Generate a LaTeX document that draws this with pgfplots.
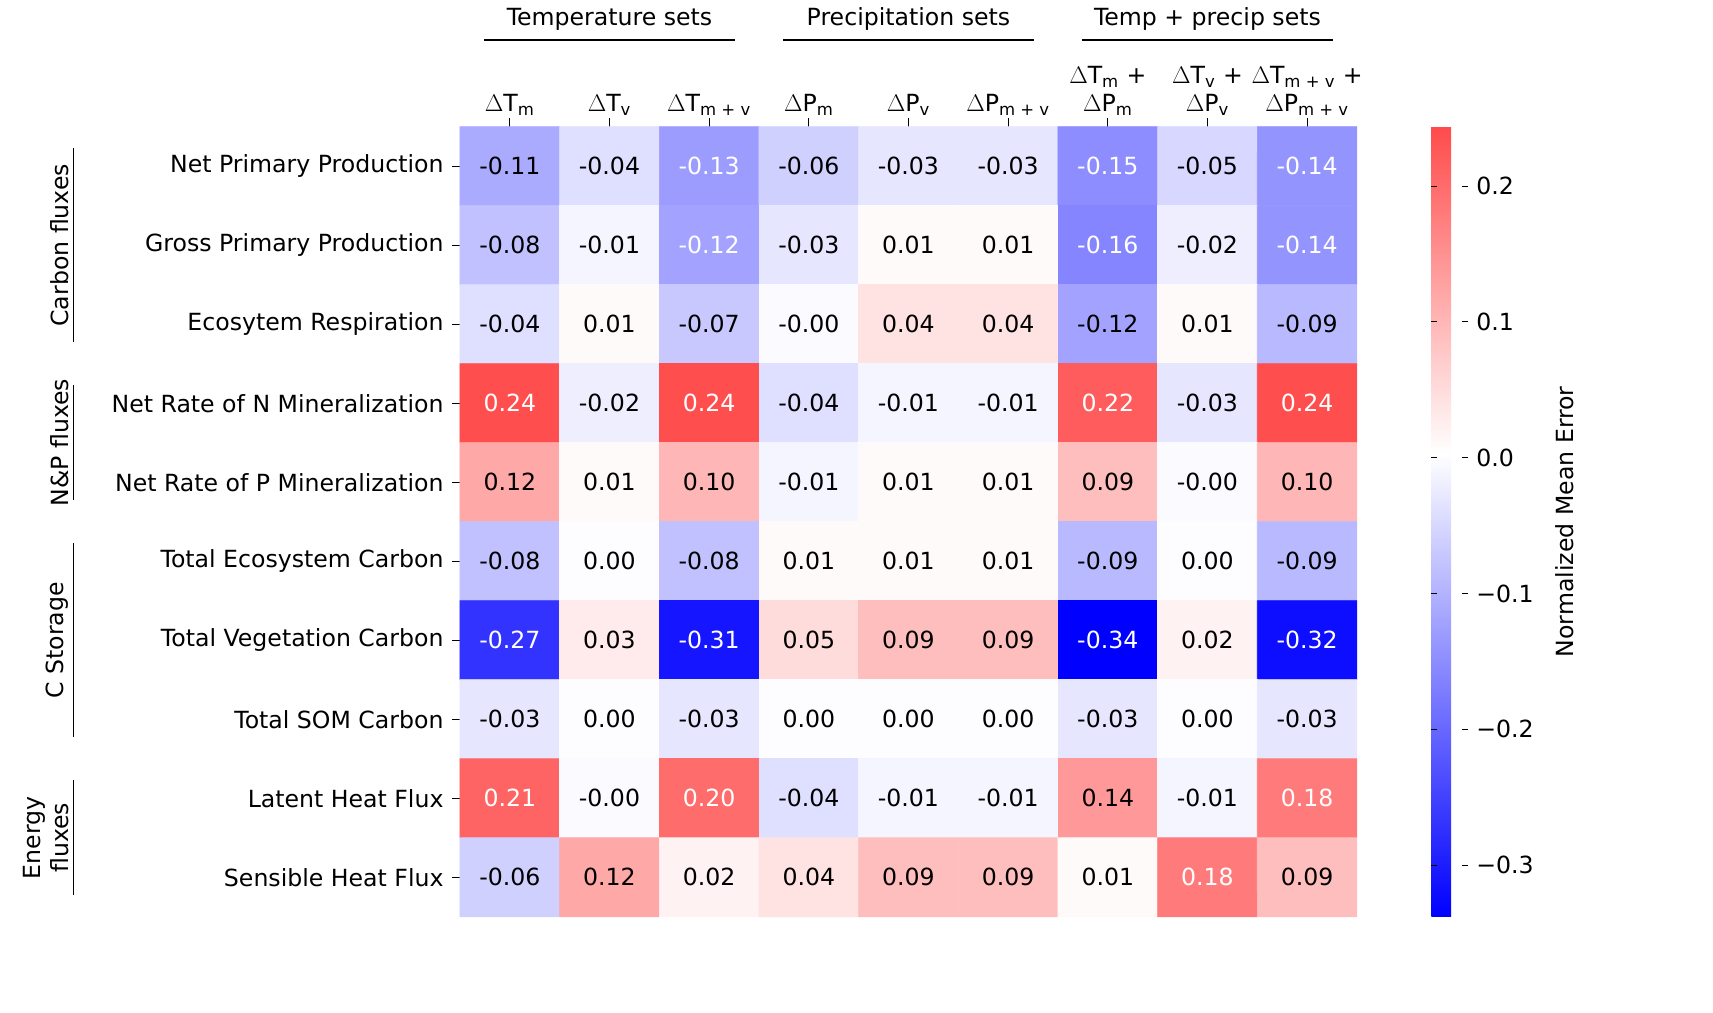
\documentclass[border=0pt]{standalone}
\usepackage{pgfplots}
\pgfplotsset{compat=1.18}
\usepackage{pgfplotstable}
\usepackage{fontspec}
\setmainfont{DejaVu Sans}
\newcommand\W[1]{\textcolor{white}{#1}}
\pgfplotstableread{
x y v l
0 0 -0.11 -0.11
1 0 -0.04 -0.04
2 0 -0.13 \W{-0.13}
3 0 -0.06 -0.06
4 0 -0.03 -0.03
5 0 -0.03 -0.03
6 0 -0.15 \W{-0.15}
7 0 -0.05 -0.05
8 0 -0.14 \W{-0.14}
0 1 -0.08 -0.08
1 1 -0.01 -0.01
2 1 -0.12 \W{-0.12}
3 1 -0.03 -0.03
4 1 0.01 0.01
5 1 0.01 0.01
6 1 -0.16 \W{-0.16}
7 1 -0.02 -0.02
8 1 -0.14 \W{-0.14}
0 2 -0.04 -0.04
1 2 0.01 0.01
2 2 -0.07 -0.07
3 2 -0.004 -0.00
4 2 0.04 0.04
5 2 0.04 0.04
6 2 -0.12 -0.12
7 2 0.01 0.01
8 2 -0.09 -0.09
0 3 0.24 \W{0.24}
1 3 -0.02 -0.02
2 3 0.24 \W{0.24}
3 3 -0.04 -0.04
4 3 -0.01 -0.01
5 3 -0.01 -0.01
6 3 0.22 \W{0.22}
7 3 -0.03 -0.03
8 3 0.24 \W{0.24}
0 4 0.12 0.12
1 4 0.01 0.01
2 4 0.10 0.10
3 4 -0.01 -0.01
4 4 0.01 0.01
5 4 0.01 0.01
6 4 0.09 0.09
7 4 -0.004 -0.00
8 4 0.10 0.10
0 5 -0.08 -0.08
1 5 0.00 0.00
2 5 -0.08 -0.08
3 5 0.01 0.01
4 5 0.01 0.01
5 5 0.01 0.01
6 5 -0.09 -0.09
7 5 0.00 0.00
8 5 -0.09 -0.09
0 6 -0.27 \W{-0.27}
1 6 0.03 0.03
2 6 -0.31 \W{-0.31}
3 6 0.05 0.05
4 6 0.09 0.09
5 6 0.09 0.09
6 6 -0.34 \W{-0.34}
7 6 0.02 0.02
8 6 -0.32 \W{-0.32}
0 7 -0.03 -0.03
1 7 0.00 0.00
2 7 -0.03 -0.03
3 7 0.00 0.00
4 7 0.00 0.00
5 7 0.00 0.00
6 7 -0.03 -0.03
7 7 0.00 0.00
8 7 -0.03 -0.03
0 8 0.21 \W{0.21}
1 8 -0.004 -0.00
2 8 0.20 \W{0.20}
3 8 -0.04 -0.04
4 8 -0.01 -0.01
5 8 -0.01 -0.01
6 8 0.14 0.14
7 8 -0.01 -0.01
8 8 0.18 \W{0.18}
0 9 -0.06 -0.06
1 9 0.12 0.12
2 9 0.02 0.02
3 9 0.04 0.04
4 9 0.09 0.09
5 9 0.09 0.09
6 9 0.01 0.01
7 9 0.18 \W{0.18}
8 9 0.09 0.09
}\data
\begin{document}
\fontsize{17}{20}\selectfont
\begin{tikzpicture}
\begin{axis}[at={(0,0)}, anchor=south west, scale only axis,
  width=645.8pt, height=568.8pt,
  xmin=-0.5, xmax=8.5, ymin=-0.5, ymax=9.5, y dir=reverse,
  clip=false, axis line style={draw=none},
  tick style={black, line width=0.6pt}, major tick length=6pt,
  tick align=outside,
  xtick={0,...,8}, xtick pos=upper, xticklabel pos=upper,
  xticklabel style={align=center, inner sep=2pt},
  xticklabels={{$\phantom{|}$\\$\Delta$T\textsubscript{m}},{$\phantom{|}$\\$\Delta$T\textsubscript{v}},{$\phantom{|}$\\$\Delta$T\textsubscript{m + v}},{$\phantom{|}$\\$\Delta$P\textsubscript{m}},{$\phantom{|}$\\$\Delta$P\textsubscript{v}},{$\phantom{|}$\\$\Delta$P\textsubscript{m + v}},{$\Delta$T\textsubscript{m} +\\$\Delta$P\textsubscript{m}},{$\Delta$T\textsubscript{v} +\\$\Delta$P\textsubscript{v}},{$\Delta$T\textsubscript{m + v} +\\$\Delta$P\textsubscript{m + v}}},
  ytick={0,...,9}, ytick pos=left,
  yticklabels={Net Primary Production,Gross Primary Production,Ecosytem Respiration,Net Rate of N Mineralization,Net Rate of P Mineralization,Total Ecosystem Carbon,Total Vegetation Carbon,Total SOM Carbon,Latent Heat Flux,Sensible Heat Flux},
  colormap={bwrc}{rgb(0cm)=(0,0,1); rgb(34cm)=(1,1,1); rgb(58cm)=(1,0.294,0.294)},
  point meta min=-0.338, point meta max=0.2437,
  colorbar,
  colorbar style={at={(parent axis.north east)}, anchor=north west, xshift=45pt,
    width=26.6pt, axis line style={draw=none},
    ytick={-0.3,-0.2,-0.1,0,0.1,0.2},
    yticklabels={−0.3,−0.2,−0.1,0.0,0.1,0.2},
    ylabel={Normalized Mean Error}, ylabel style={yshift=-4pt}},
]
\addplot[matrix plot*, mesh/cols=9, point meta=explicit] table[x=x,y=y,meta=v]{\data};
\addplot[draw=none, mark=none, point meta=explicit symbolic,
  nodes near coords, nodes near coords style={anchor=center}] table[x=x,y=y,meta=l]{\data};
\node at (axis cs:1,-1.86) {Temperature sets};
\node at (axis cs:4,-1.86) {Precipitation sets};
\node at (axis cs:7,-1.86) {Temp + precip sets};
\draw[line width=1pt] (axis cs:-0.26,-1.6) -- (axis cs:2.26,-1.6);
\draw[line width=1pt] (axis cs:2.74,-1.6) -- (axis cs:5.26,-1.6);
\draw[line width=1pt] (axis cs:5.74,-1.6) -- (axis cs:8.26,-1.6);
\draw[line width=1pt] (axis cs:-4.38,-0.23) -- (axis cs:-4.38,2.23);
\draw[line width=1pt] (axis cs:-4.38,2.77) -- (axis cs:-4.38,4.23);
\draw[line width=1pt] (axis cs:-4.38,4.77) -- (axis cs:-4.38,7.23);
\draw[line width=1pt] (axis cs:-4.38,7.77) -- (axis cs:-4.38,9.23);
\node[rotate=90, anchor=south, inner sep=3pt] at (axis cs:-4.38,1) {Carbon fluxes};
\node[rotate=90, anchor=south, inner sep=3pt] at (axis cs:-4.38,3.5) {N\&P fluxes};
\node[rotate=90, anchor=south, inner sep=3pt] at (axis cs:-4.38,6) {C Storage};
\node[rotate=90, anchor=south, inner sep=3pt, align=center] at (axis cs:-4.38,8.5) {Energy\\fluxes};
\end{axis}
\path (-331.2pt,-69.12pt) rectangle (902.16pt,658.08pt);
\end{tikzpicture}
\end{document}
